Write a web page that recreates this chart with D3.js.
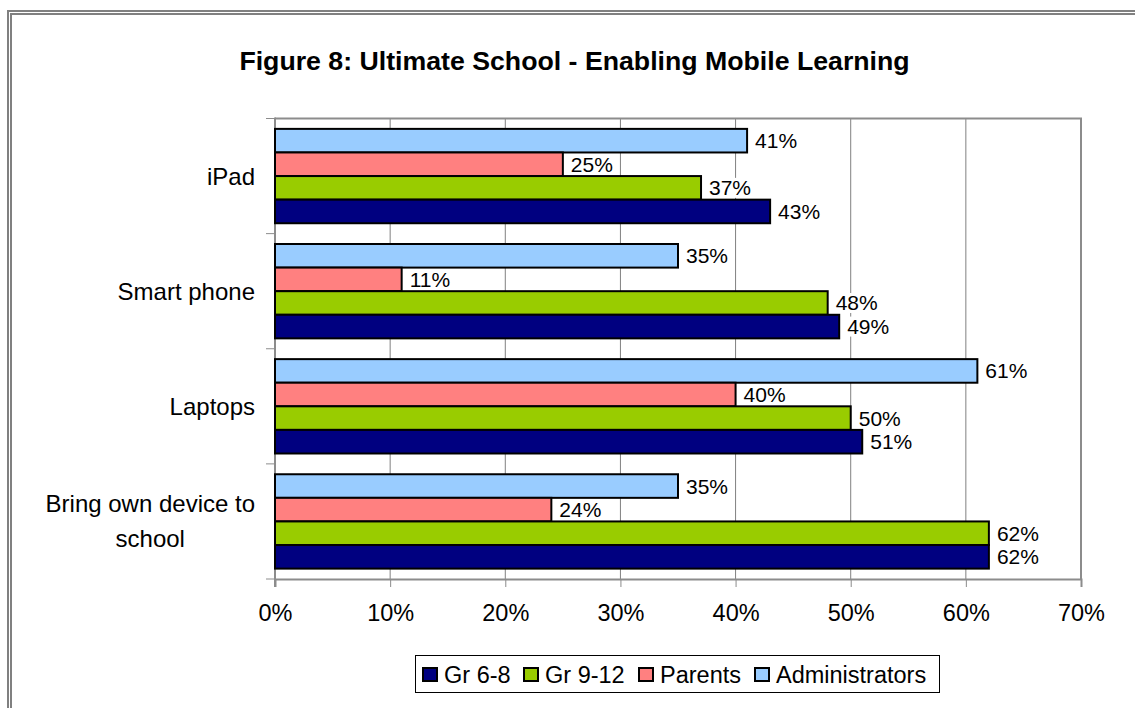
<!DOCTYPE html>
<html>
<head>
<meta charset="utf-8">
<script src="https://cdn.jsdelivr.net/npm/d3@7"></script>
<style>
  html, body { margin: 0; padding: 0; background: #fff; }
  svg { display: block; }
  text { font-family: "Liberation Sans", Arial, sans-serif; fill: #000; }
</style>
</head>
<body>
<svg id="chart" width="1135" height="708"></svg>
<script>
const categories = ["iPad", "Smart phone", "Laptops", "Bring own device to school"];
const categoryLines = [["iPad"], ["Smart phone"], ["Laptops"], ["Bring own device to", "school"]];
const seriesNames = ["Administrators", "Parents", "Gr 9-12", "Gr 6-8"];
const administrators = [41, 35, 61, 35];
const parents = [25, 11, 40, 24];
const gr912 = [37, 48, 50, 62];
const gr68 = [43, 49, 51, 62];
const seriesValues = [administrators, parents, gr912, gr68];
const seriesColors = ["#99CCFF", "#FF8080", "#99CC00", "#000080"];
const legendOrder = ["Gr 6-8", "Gr 9-12", "Parents", "Administrators"];
const xTicks = [0, 10, 20, 30, 40, 50, 60, 70];
const titleText = "Figure 8: Ultimate School - Enabling Mobile Learning";

const svg = d3.select("#chart");

// outer double frame
svg.append("rect").attr("x", 8).attr("y", 11).attr("width", 1150).attr("height", 720)
  .attr("fill", "none").attr("stroke", "#808080").attr("stroke-width", 2);
svg.append("rect").attr("x", 11).attr("y", 14).attr("width", 1150).attr("height", 720)
  .attr("fill", "none").attr("stroke", "#808080").attr("stroke-width", 2);

// title
svg.append("text").attr("x", 574.5).attr("y", 70).attr("text-anchor", "middle")
  .style("font-weight", "bold").style("font-size", "26.7px").text(titleText);

const plot = { left: 275, right: 1081, top: 118.5, bottom: 579 };

const x = d3.scaleLinear().domain([0, 70]).range([plot.left, plot.right]);
const y = d3.scaleBand().domain(categories).range([plot.top, plot.bottom]).padding(0);
const inner = d3.scaleBand().domain(seriesNames).range([0, y.bandwidth()]).paddingOuter(0.44).paddingInner(0);

// gridlines
svg.append("g").selectAll("line").data(xTicks.filter(t => t > 0 && t < 70)).join("line")
  .attr("x1", d => x(d)).attr("x2", d => x(d))
  .attr("y1", plot.top).attr("y2", plot.bottom)
  .attr("stroke", "#808080").attr("stroke-width", 1);

// plot border (top/right)
svg.append("path")
  .attr("d", `M${plot.left},${plot.top}H${plot.right}V${plot.bottom}`)
  .attr("fill", "none").attr("stroke", "#8c8c8c").attr("stroke-width", 2);

// x axis
const xAxis = d3.axisBottom(x).tickValues(xTicks).tickFormat(d => d + "%").tickSize(8).tickPadding(17);
const gx = svg.append("g").attr("transform", `translate(0,${plot.bottom})`).call(xAxis);
gx.select(".domain").attr("stroke", "#8c8c8c").attr("stroke-width", 2);
gx.selectAll(".tick line").attr("stroke", "#8c8c8c").attr("stroke-width", 1);
gx.selectAll(".tick text").style("font-size", "23.5px").style("font-family", "Liberation Sans, Arial, sans-serif");

// y axis (ticks at category boundaries)
svg.append("line").attr("x1", plot.left).attr("x2", plot.left).attr("y1", plot.top - 1).attr("y2", plot.bottom + 8)
  .attr("stroke", "#8c8c8c").attr("stroke-width", 2);
const boundaries = categories.map(c => y(c)).concat([plot.bottom]);
svg.append("g").selectAll("line").data(boundaries).join("line")
  .attr("x1", plot.left - 9).attr("x2", plot.left)
  .attr("y1", d => d).attr("y2", d => d)
  .attr("stroke", "#8c8c8c").attr("stroke-width", 1);

// category labels
const catG = svg.append("g");
categories.forEach((c, i) => {
  const lines = categoryLines[i];
  const lh = 35;
  const cy = y(c) + y.bandwidth() / 2;
  const t = catG.append("text").style("font-size", "24px").attr("text-anchor", "middle");
  lines.forEach((l, j) => {
    t.append("tspan").attr("x", 0).attr("y", cy + 8.5 + (j - (lines.length - 1) / 2) * lh).text(l);
  });
  let maxW = 0;
  t.selectAll("tspan").each(function () { maxW = Math.max(maxW, this.getComputedTextLength()); });
  t.selectAll("tspan").attr("x", 255 - maxW / 2);
});

// bars
const barsG = svg.append("g");
const labelsG = svg.append("g");
seriesNames.forEach((s, si) => {
  const vals = seriesValues[si];
  barsG.selectAll(null).data(categories).join("rect")
    .attr("x", x(0))
    .attr("y", (c) => y(c) + inner(s))
    .attr("width", (c, i) => x(vals[i]) - x(0))
    .attr("height", inner.bandwidth())
    .attr("fill", seriesColors[si])
    .attr("stroke", "#000").attr("stroke-width", 2);
});
seriesNames.forEach((s, si) => {
  const vals = seriesValues[si];
  categories.forEach((c, i) => {
    const lx = x(vals[i]) + 8;
    const ly = y(c) + inner(s) + inner.bandwidth() / 2;
    const t = labelsG.append("text").attr("x", lx).attr("y", ly + 7.5)
      .style("font-size", "21px").text(vals[i] + "%");
    const w = t.node().getComputedTextLength();
    labelsG.insert("rect", () => t.node()).attr("x", lx - 3).attr("y", ly - 10).attr("width", w + 5).attr("height", 20)
      .attr("fill", "#fff");
  });
});

// legend
const lg = svg.append("g");
lg.append("rect").attr("x", 415.5).attr("y", 655.5).attr("width", 524).attr("height", 37)
  .attr("fill", "#fff").attr("stroke", "#000").attr("stroke-width", 1);
const legendX = [423, 524, 639, 755];
legendOrder.forEach((name, i) => {
  const si = seriesNames.indexOf(name);
  lg.append("rect").attr("x", legendX[i]).attr("y", 668).attr("width", 14).attr("height", 13)
    .attr("fill", seriesColors[si]).attr("stroke", "#000").attr("stroke-width", 2);
  lg.append("text").attr("x", legendX[i] + 21).attr("y", 683).style("font-size", "23.5px").text(name);
});
</script>
</body>
</html>
